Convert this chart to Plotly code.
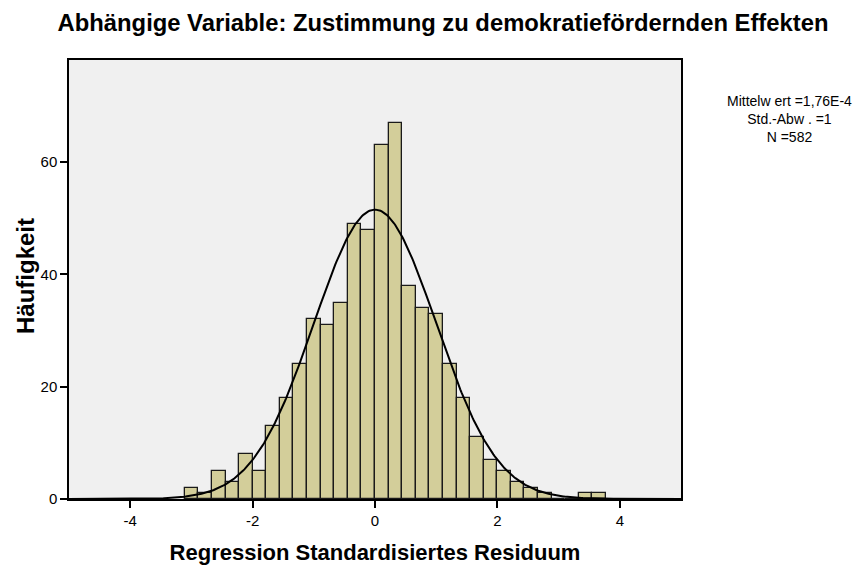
import numpy as np
import plotly.graph_objects as go

# Data
bin_width = 0.222
first_edge = -14 * bin_width
counts = [2, 1, 5, 3, 8, 5, 13, 18, 24, 32, 31, 35, 49, 48,
          63, 67, 38, 34, 33, 24, 18, 11, 7, 5, 3, 2, 1, 0, 0, 1, 1]
mean = 1.76e-4
sd = 1.0
n_total = 582
x_ticks = [-4, -2, 0, 2, 4]
x_tick_labels = ["-4", "-2", "0", "2", "4"]
y_ticks = [0, 20, 40, 60]
stats_lines = ["Mittelw ert =1,76E-4", "Std.-Abw . =1", "N =582"]

centers = [first_edge + (i + 0.5) * bin_width for i in range(len(counts))]

xc = np.linspace(-5, 5, 500)
yc = n_total * bin_width / (sd * np.sqrt(2 * np.pi)) * np.exp(-0.5 * ((xc - mean) / sd) ** 2)

OFF = 8  # default page body margin
W, H = 862 - OFF, 570 - OFF
L, R, T, B = 69 - OFF, 181, 60 - OFF, 71
PW, PH = W - L - R, H - T - B

fig = go.Figure()
fig.add_trace(go.Bar(
    x=centers, y=counts, width=bin_width,
    marker=dict(color="#d3ce9a", line=dict(color="#1a1a1a", width=1.3)),
    hoverinfo="x+y", showlegend=False,
))
fig.add_trace(go.Scatter(
    x=xc, y=yc, mode="lines", line=dict(color="black", width=2),
    showlegend=False, hoverinfo="skip",
))

fig.update_layout(
    width=W, height=H,
    margin=dict(l=L, r=R, t=T, b=B, autoexpand=False),
    paper_bgcolor="white", plot_bgcolor="#f0f0f0",
    bargap=0,
    font=dict(family="Liberation Sans, Arial, sans-serif", color="black", size=15),
    title=dict(text="<b>Abhängige Variable: Zustimmung zu demokratiefördernden Effekten</b>",
               x=(443 - OFF) / W, xanchor="center", y=1 - (23 - OFF) / H, yanchor="middle",
               font=dict(size=23.8)),
    annotations=[
        dict(text="<br>".join(stats_lines), xref="paper", yref="paper",
             x=(789 - 69) / PW, y=1 - (91 - 60) / PH,
             xanchor="center", yanchor="top", showarrow=False, align="center",
             font=dict(size=14)),
        dict(text="<b>Häufigkeit</b>", xref="paper", yref="paper",
             x=(25 - 69) / PW, y=1 - (276 - 60) / PH, xanchor="center", yanchor="middle",
             textangle=-90, showarrow=False, font=dict(size=24)),
    ],
)

fig.update_xaxes(
    range=[-5, 5], tickvals=x_ticks, ticktext=x_tick_labels, ticks="outside", ticklen=7,
    tickwidth=1.5, tickcolor="black", showline=True, linecolor="black", linewidth=1.5,
    mirror=True, showgrid=False, zeroline=False, automargin=False,
    title=dict(text="<b>Regression Standardisiertes Residuum</b>", font=dict(size=22), standoff=17),
    tickfont=dict(size=15),
)
fig.update_yaxes(
    range=[0, 78.2], tickvals=y_ticks, ticks="outside", ticklen=7, tickwidth=1.5,
    tickcolor="black", showline=True, linecolor="black", linewidth=1.5, mirror=True,
    showgrid=False, zeroline=False, automargin=False,
    tickfont=dict(size=15),
)

fig.write_html("out.html")
